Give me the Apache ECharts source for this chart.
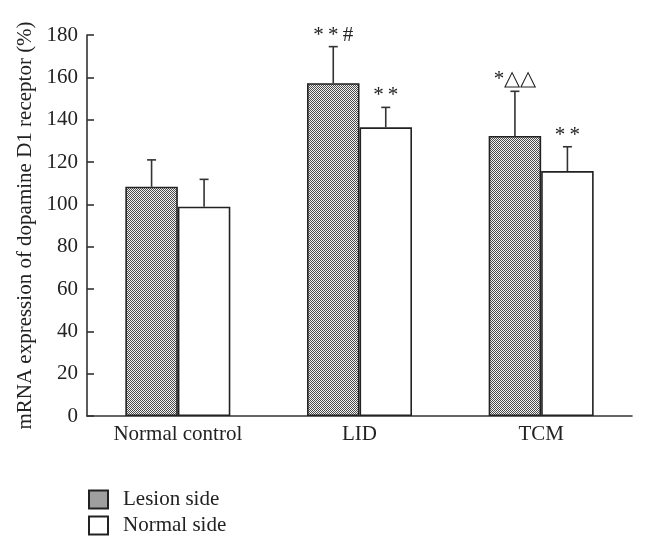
<!DOCTYPE html>
<html>
<head>
<meta charset="utf-8">
<script src="https://cdn.jsdelivr.net/npm/echarts@6/dist/echarts.min.js"></script>
<style>html,body{margin:0;padding:0;background:#fff}#c{width:646px;height:551px}</style>
</head>
<body>
<div id="c"></div>
<script>
const categories = ['Normal control', 'LID', 'TCM'];
const seriesNames = ['Lesion side', 'Normal side'];
const lesionMean = [108.3, 157.2, 132.3];
const lesionSD = [12.7, 17.3, 21.1];
const normalMean = [98.9, 136.4, 115.7];
const normalSD = [12.9, 9.4, 11.5];
const lesionMarks = ['', '*\u2009*\u2009#', '*\u25B3\u25B3'];
const normalMarks = ['', '*\u2009*', '*\u2009*'];
const yTicks = { min: 0, max: 180, interval: 20 };

const FONT = 'Liberation Serif';
const FS = 21;
const BAR_FRAC = 0.289;

// checker pattern
const pc = document.createElement('canvas');
pc.width = 2; pc.height = 2;
const pctx = pc.getContext('2d');
pctx.fillStyle = '#f4f4f4'; pctx.fillRect(0, 0, 2, 2);
pctx.fillStyle = '#4a4a4a'; pctx.fillRect(0, 0, 1, 1); pctx.fillRect(1, 1, 1, 1);
const pattern = { image: pc, repeat: 'repeat' };

function errData(means, sds, side) {
  return means.map((m, i) => [i, m, m + sds[i], side]);
}

function makeRender(marks) {
  return function (params, api) {
    const i = api.value(0), m = api.value(1), top = api.value(2), side = api.value(3);
    const mark = marks[params.dataIndex];
    const band = api.size([1, 0])[0];
    const off = band * BAR_FRAC / 2 * (side === 0 ? -1 : 1);
    const p0 = api.coord([i, m]);
    const p1 = api.coord([i, top]);
    const x = p0[0] + off;
    const children = [
      { type: 'line', shape: { x1: x, y1: p0[1], x2: x, y2: p1[1] }, style: { stroke: '#333', lineWidth: 1.6 } },
      { type: 'line', shape: { x1: x - 4.5, y1: p1[1], x2: x + 4.5, y2: p1[1] }, style: { stroke: '#333', lineWidth: 1.6 } }
    ];
    if (mark) {
      children.push({ type: 'text', style: { text: mark, x: x, y: p1[1] - 1, align: 'center', verticalAlign: 'bottom', font: FS + 'px ' + FONT, fill: '#222' } });
    }
    return { type: 'group', children };
  };
}

const chart = echarts.init(document.getElementById('c'), null, { renderer: 'canvas' });
chart.setOption({
  animation: false,
  backgroundColor: '#fff',
  grid: { left: 87, right: 14, top: 35, bottom: 135, containLabel: false },
  legend: {
    orient: 'vertical', left: 88, top: 489, padding: 0,
    itemWidth: 19, itemHeight: 18, itemGap: 5,
    icon: 'rect',
    textStyle: { fontFamily: FONT, fontSize: FS, color: '#222', padding: [0, 0, 0, 10] },
    data: seriesNames
  },
  xAxis: {
    type: 'category', data: categories,
    axisLine: { lineStyle: { color: '#333', width: 1.6 } },
    axisTick: { inside: true, length: 6, lineStyle: { color: '#333', width: 1.6 } },
    axisLabel: { fontFamily: FONT, fontSize: FS, color: '#222', margin: 8 }
  },
  yAxis: {
    type: 'value', min: yTicks.min, max: yTicks.max, interval: yTicks.interval,
    name: 'mRNA expression of dopamine D1 receptor (%)',
    nameLocation: 'middle', nameGap: 48,
    nameTextStyle: { fontFamily: FONT, fontSize: FS, color: '#222' },
    axisLine: { show: true, lineStyle: { color: '#333', width: 1.6 } },
    axisTick: { show: true, inside: true, length: 7, lineStyle: { color: '#333', width: 1.6 } },
    axisLabel: { fontFamily: FONT, fontSize: FS, color: '#222', margin: 9 },
    splitLine: { show: false }
  },
  series: [
    {
      name: seriesNames[0], type: 'bar', data: lesionMean,
      barWidth: (BAR_FRAC * 100) + '%', barGap: '0%',
      itemStyle: { color: pattern, borderColor: '#222', borderWidth: 1.6 }
    },
    {
      name: seriesNames[1], type: 'bar', data: normalMean,
      barWidth: (BAR_FRAC * 100) + '%', barGap: '0%',
      itemStyle: { color: '#fff', borderColor: '#222', borderWidth: 1.6 }
    },
    {
      type: 'custom', renderItem: makeRender(lesionMarks),
      data: errData(lesionMean, lesionSD, 0), z: 5, silent: true
    },
    {
      type: 'custom', renderItem: makeRender(normalMarks),
      data: errData(normalMean, normalSD, 1), z: 5, silent: true
    }
  ]
});
</script>
</body>
</html>
